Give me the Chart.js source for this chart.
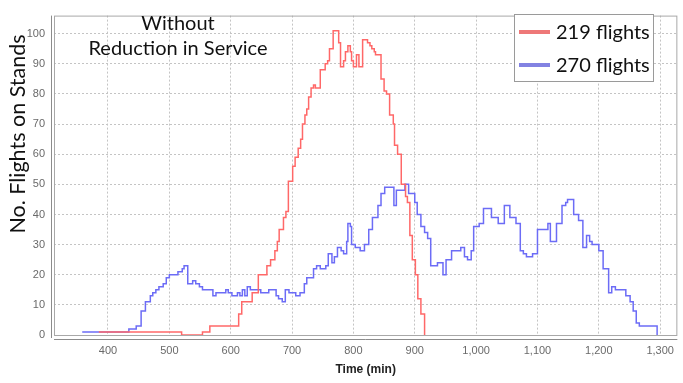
<!DOCTYPE html>
<html lang="en">
<head>
<meta charset="UTF-8">
<title>Flights on Stands</title>
<script src="https://cdn.jsdelivr.net/npm/chart.js"></script>
<style>
  body { margin: 0; background: #fff; }
  canvas { display: block; }
</style>
</head>
<body>
<canvas id="standsChart" width="683" height="383"></canvas>
<script>
  // 219 flights: time (min) where the count changes, and the count from then on
  const redTimes = [385, 520, 554, 566, 613, 618, 635, 645, 659, 665, 672, 676, 679, 686, 690,
    694, 701, 705, 710, 714, 717, 721, 724, 727, 731, 735, 738, 746, 754, 758, 761, 767, 776,
    779, 784, 787, 791, 795, 797, 800, 805, 809, 815, 823, 827, 830, 834, 836, 845, 850, 854,
    859, 865, 867, 872, 878, 885, 888, 892, 896, 901, 905, 910, 916];
  const redCounts = [1, 0, 1, 3, 7, 11, 14, 20, 23, 25, 28, 31, 35, 39, 41,
    51, 56, 59, 62, 65, 70, 73, 75, 79, 82, 83, 82, 88, 90, 91, 95, 101, 97,
    89, 91, 94, 96, 94, 91, 89, 93, 89, 98, 97, 96, 95, 94, 93, 85, 81, 80,
    73, 70, 63, 60, 50, 46, 44, 33, 25, 20, 12, 7, 0];

  // 270 flights
  const blueTimes = [358, 434, 446, 454, 461, 469, 473, 478, 483, 490, 495, 500, 514, 521, 524,
    530, 538, 543, 549, 554, 571, 576, 592, 596, 602, 611, 615, 619, 623, 627, 632, 649, 662,
    674, 678, 684, 689, 695, 706, 713, 720, 724, 735, 740, 746, 755, 759, 765, 769, 774, 780,
    784, 789, 791, 795, 797, 803, 811, 818, 825, 831, 840, 845, 851, 866, 870, 884, 890, 900,
    904, 910, 916, 921, 926, 937, 946, 951, 960, 975, 981, 986, 992, 996, 1005, 1012, 1025,
    1036, 1046, 1055, 1065, 1072, 1077, 1082, 1092, 1100, 1117, 1121, 1131, 1140, 1146, 1149,
    1159, 1167, 1174, 1180, 1185, 1189, 1200, 1207, 1216, 1221, 1227, 1244, 1251, 1256, 1261,
    1266, 1295];
  const blueCounts = [1, 2, 3, 8, 11, 13, 14, 15, 16, 17, 19, 20, 21, 22, 23,
    17, 18, 17, 16, 15, 13, 14, 15, 14, 13, 14, 13, 15, 13, 16, 15, 14, 15,
    13, 12, 11, 15, 14, 13, 14, 17, 19, 22, 23, 22, 23, 27, 24, 26, 29, 28,
    27, 31, 37, 36, 30, 29, 28, 30, 35, 39, 43, 47, 49, 43, 48, 50, 47, 44,
    40, 36, 34, 32, 23, 24, 20, 25, 28, 29, 26, 25, 28, 36, 37, 42, 39,
    37, 43, 39, 37, 28, 27, 26, 27, 35, 37, 31, 37, 43, 44, 45,
    40, 38, 29, 33, 31, 30, 28, 22, 14, 16, 15, 13, 11, 8, 4,
    3, 0];

  const seriesLabels = ['219 flights', '270 flights'];
  const xTicks = [400, 500, 600, 700, 800, 900, 1000, 1100, 1200, 1300];
  const yTicks = [0, 10, 20, 30, 40, 50, 60, 70, 80, 90, 100];
  const noteLines = ['Without', 'Reduction in Service'];
  const yTitle = 'No. Flights on Stands';

  const toPoints = (times, counts) => times.map((t, i) => ({ x: t, y: counts[i] }));

  const calloutFont = '20px Lato, "Open Sans", sans-serif';

  // plot frame, offset axis lines, y title, note and boxed legend
  const framePlugin = {
    id: 'framePlugin',
    beforeDatasetsDraw(chart) {
      const { ctx, chartArea: a } = chart;
      ctx.save();
      ctx.strokeStyle = '#a8a8a8';
      ctx.lineWidth = 1;
      ctx.strokeRect(a.left + 0.5, a.top + 0.5, a.right - a.left - 1, a.bottom - a.top);
      ctx.strokeStyle = '#8c8c8c';
      ctx.beginPath();
      ctx.moveTo(a.left - 2.5, a.top);
      ctx.lineTo(a.left - 2.5, a.bottom + 3);
      ctx.moveTo(a.left, a.bottom + 4.5);
      ctx.lineTo(a.right, a.bottom + 4.5);
      ctx.stroke();
      ctx.restore();
    },
    afterDraw(chart) {
      const { ctx } = chart;
      ctx.save();
      ctx.fillStyle = '#111';
      ctx.textAlign = 'center';
      ctx.textBaseline = 'middle';

      ctx.save();
      ctx.font = '21.5px Lato, "Open Sans", sans-serif';
      ctx.translate(18, 134);
      ctx.rotate(-Math.PI / 2);
      ctx.fillText(yTitle, 0, 0);
      ctx.restore();

      ctx.font = calloutFont;
      noteLines.forEach((line, i) => ctx.fillText(line, 178, 24 + i * 25));

      // legend box
      ctx.fillStyle = '#fff';
      ctx.fillRect(514, 14, 139, 67);
      ctx.strokeStyle = '#9a9a9a';
      ctx.lineWidth = 1;
      ctx.strokeRect(514.5, 14.5, 139, 67);
      ctx.textAlign = 'left';
      chart.data.datasets.forEach((ds, i) => {
        const y = 32 + i * 33;
        ctx.strokeStyle = ds.legendColor;
        ctx.lineWidth = 4;
        ctx.beginPath();
        ctx.moveTo(519, y);
        ctx.lineTo(550, y);
        ctx.stroke();
        ctx.fillStyle = '#111';
        ctx.fillText(ds.label, 556, y + 1);
      });
      ctx.restore();
    }
  };

  const tickFont = { family: '"Liberation Sans", Arial, sans-serif', size: 11 };

  new Chart(document.getElementById('standsChart'), {
    type: 'line',
    data: {
      datasets: [
        {
          label: seriesLabels[0],
          data: toPoints(redTimes, redCounts),
          borderColor: '#ff6868',
          legendColor: '#ee7878',
          borderWidth: 1.5,
          stepped: true,
          pointRadius: 0,
          fill: false
        },
        {
          label: seriesLabels[1],
          data: toPoints(blueTimes, blueCounts),
          borderColor: '#6c6cf6',
          legendColor: '#8282e2',
          borderWidth: 1.5,
          stepped: true,
          pointRadius: 0,
          fill: false
        }
      ]
    },
    options: {
      responsive: false,
      animation: false,
      locale: 'en-US',
      layout: { padding: { top: 7, right: 2, left: 0, bottom: 0 } },
      plugins: { legend: { display: false }, tooltip: { enabled: false } },
      scales: {
        x: {
          type: 'linear',
          min: 312,
          max: 1328,
          afterBuildTicks: s => { s.ticks = xTicks.map(v => ({ value: v })); },
          afterFit: s => { s.height = 48; },
          grid: { color: '#c4c4c4', drawTicks: false },
          border: { display: false, dash: [2, 2] },
          ticks: { padding: 9, color: '#6a6a6a', font: tickFont, maxRotation: 0, autoSkip: false },
          title: {
            display: true,
            text: 'Time (min)',
            color: '#222',
            font: { family: '"Liberation Sans", Arial, sans-serif', size: 12, weight: 'bold' },
            padding: { top: 0, bottom: 6 }
          }
        },
        y: {
          min: 0,
          max: 106,
          afterBuildTicks: s => { s.ticks = yTicks.map(v => ({ value: v })); },
          afterFit: s => { s.width = 54; },
          grid: { color: '#c4c4c4', drawTicks: false },
          border: { display: false, dash: [2, 2] },
          ticks: { padding: 9, color: '#6a6a6a', font: tickFont }
        }
      }
    },
    plugins: [framePlugin]
  });
</script>
</body>
</html>
